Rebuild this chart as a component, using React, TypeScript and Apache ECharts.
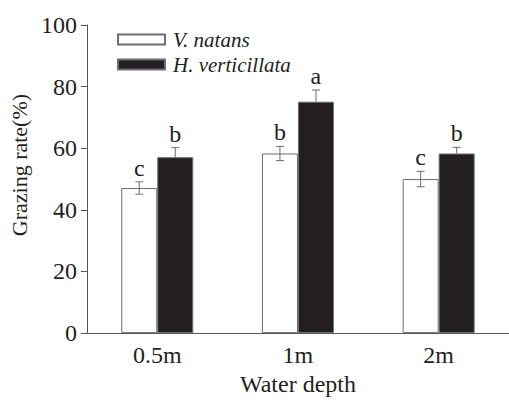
import React, { useEffect, useRef } from "react";
import * as echarts from "echarts";

const categories = ["0.5m", "1m", "2m"];
const vNatans = [47.1, 58.3, 50.0];
const vNatansErr = [2.0, 2.3, 2.5];
const vNatansLetters = ["c", "b", "c"];
const hVert = [57.1, 75.1, 58.3];
const hVertErr = [3.1, 3.8, 2.0];
const hVertLetters = ["b", "a", "b"];
const yTicks = { min: 0, max: 100, interval: 20 };

const FONT = "'Liberation Serif', 'Times New Roman', serif";
const TEXT = "#231f20";
const LINE = "#555555";
const BAR_W = 36;

function errSeries(name: string, means: number[], errs: number[], letters: string[], side: number, full: boolean) {
  return {
    type: "custom",
    name: name + " err",
    z: 5,
    clip: false,
    silent: true,
    data: means.map((m, i) => [i, m, errs[i]]),
    renderItem: (params: any, api: any) => {
      const i = api.value(0);
      const m = api.value(1);
      const e = api.value(2);
      const top = api.coord([i, m + e]);
      const mid = api.coord([i, m]);
      const bot = api.coord([i, m - e]);
      const x = top[0] + side * (BAR_W / 2);
      const cap = 4;
      const style = { stroke: "#6d6e71", lineWidth: 1 };
      const children: any[] = [
        { type: "line", shape: { x1: x, y1: top[1], x2: x, y2: full ? bot[1] : mid[1] }, style },
        { type: "line", shape: { x1: x - cap, y1: top[1], x2: x + cap, y2: top[1] }, style },
      ];
      if (full) {
        children.push({ type: "line", shape: { x1: x - cap, y1: bot[1], x2: x + cap, y2: bot[1] }, style });
      }
      children.push({
        type: "text",
        style: {
          text: letters[params.dataIndex],
          x: x,
          y: top[1] - 2,
          align: "center",
          verticalAlign: "bottom",
          fill: TEXT,
          font: `24px ${FONT}`,
        },
      });
      return { type: "group", children };
    },
  };
}

export default function App() {
  const ref = useRef<HTMLDivElement>(null);
  useEffect(() => {
    if (!ref.current) return;
    const chart = echarts.init(ref.current, undefined, { renderer: "svg" });
    chart.setOption({
      animation: false,
      backgroundColor: "#ffffff",
      textStyle: { fontFamily: FONT },
      grid: { left: 86, top: 25, width: 431, height: 318 },
      legend: {
        data: ["V. natans", "H. verticillata"],
        orient: "vertical",
        left: 112,
        top: 24,
        itemWidth: 47,
        itemHeight: 10,
        itemGap: 4,
        icon: "rect",
        textStyle: {
          fontFamily: FONT,
          fontStyle: "italic",
          fontSize: 21,
          color: TEXT,
          lineHeight: 21,
          padding: [0, 0, 0, 3],
        },
      },
      xAxis: {
        type: "category",
        data: categories,
        name: "Water depth",
        nameLocation: "middle",
        nameGap: 35,
        nameTextStyle: { fontFamily: FONT, fontSize: 24, color: TEXT },
        axisLine: { lineStyle: { color: LINE, width: 1 } },
        axisTick: { alignWithLabel: true, length: 5, lineStyle: { color: LINE } },
        axisLabel: { fontFamily: FONT, fontSize: 24, color: TEXT, margin: 10 },
      },
      yAxis: {
        type: "value",
        min: yTicks.min,
        max: yTicks.max,
        interval: yTicks.interval,
        name: "Grazing rate(%)",
        nameLocation: "middle",
        nameGap: 49,
        nameTextStyle: { fontFamily: FONT, fontSize: 22, color: TEXT, padding: [0, 0, 0, 28] },
        axisLine: { show: true, lineStyle: { color: LINE, width: 1 } },
        axisTick: { show: true, length: 6, lineStyle: { color: LINE } },
        axisLabel: { fontFamily: FONT, fontSize: 24, color: TEXT, margin: 10 },
        splitLine: { show: false },
      },
      series: [
        {
          type: "bar",
          name: "V. natans",
          data: vNatans,
          barWidth: BAR_W,
          barGap: "0%",
          itemStyle: { color: "#ffffff", borderColor: "#6d6e71", borderWidth: 1 },
        },
        {
          type: "bar",
          name: "H. verticillata",
          data: hVert,
          barWidth: BAR_W,
          barGap: "0%",
          itemStyle: { color: "#231f20", borderColor: "#6d6e71", borderWidth: 1 },
        },
        errSeries("V. natans", vNatans, vNatansErr, vNatansLetters, -1, true),
        errSeries("H. verticillata", hVert, hVertErr, hVertLetters, 1, false),
      ],
    });
    return () => chart.dispose();
  }, []);
  return <div ref={ref} style={{ position: "absolute", left: 0, top: 0, width: 509, height: 401 }} />;
}
